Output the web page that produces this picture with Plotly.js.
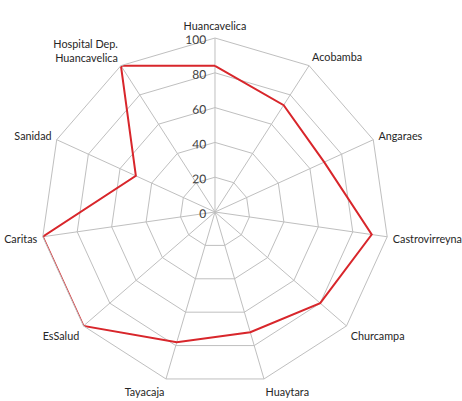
<!DOCTYPE html>
<html>
<head>
<meta charset="utf-8">
<script src="https://cdn.plot.ly/plotly-3.0.1.min.js"></script>
<style>html,body{margin:0;padding:0;background:#fff;}#chart{width:462px;height:401px;}</style>
</head>
<body>
<div id="chart"></div>
<script>
var categories = ["Huancavelica", "Acobamba", "Angaraes", "Castrovirreyna", "Churcampa", "Huaytara", "Tayacaja", "EsSalud", "Caritas", "Sanidad", "Hospital Dep.<br>Huancavelica"];
var values = [84, 73, 69, 91, 80, 72, 78, 100, 100, 50, 100];
var radialTicks = [0, 20, 40, 60, 80, 100];

var r = values.concat([values[0]]);
var theta = categories.concat([categories[0]]);

var data = [{
  type: "scatterpolar",
  mode: "lines",
  r: r,
  theta: theta,
  line: {color: "#d8262b", width: 2},
  hoverinfo: "skip"
}];

var layout = {
  width: 462, height: 401,
  margin: {l: 0, r: 0, t: 0, b: 0},
  paper_bgcolor: "#fff",
  showlegend: false,
  font: {family: "Lato, 'Open Sans', sans-serif", size: 11, color: "#404040"},
  polar: {
    domain: {x: [0.0887, 0.8420], y: [0.0374, 0.9052]},
    bgcolor: "#fff",
    gridshape: "linear",
    angularaxis: {
      type: "category",
      categoryorder: "array",
      categoryarray: categories,
      direction: "clockwise",
      rotation: 90,
      showline: true,
      linecolor: "#bfbfbf",
      linewidth: 1,
      gridcolor: "#bfbfbf",
      ticks: "outside",
      ticklen: 3,
      tickcolor: "rgba(0,0,0,0)",
      tickfont: {size: 10.8, color: "#262626"}
    },
    radialaxis: {
      range: [0, 100],
      tickvals: radialTicks,
      ticktext: radialTicks.map(String),
      angle: 90,
      tickangle: 89.9,
      side: "counterclockwise",
      showline: false,
      gridcolor: "#bfbfbf",
      ticks: "",
      tickfont: {size: 12, color: "#404040"}
    }
  }
};

Plotly.newPlot("chart", data, layout, {displayModeBar: false, staticPlot: true});
</script>
</body>
</html>
